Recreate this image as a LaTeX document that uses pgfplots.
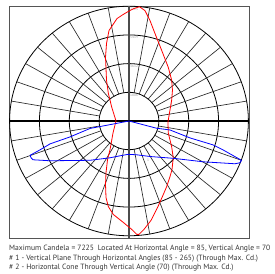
\documentclass[border=0pt]{standalone}
\usepackage{fontspec}
\setmainfont{PT Sans}
\usepackage{pgfplots}
\pgfplotsset{compat=1.18}
\definecolor{boxgray}{HTML}{555555}
\definecolor{txtgray}{HTML}{333333}
\definecolor{lblgray}{HTML}{9A9A9A}
\definecolor{curvered}{HTML}{FF0000}
\definecolor{curveblue}{HTML}{0000FF}
\begin{document}
\begin{tikzpicture}[x=1pt,y=1pt]
\path[use as bounding box] (0,0) rectangle (275,-273);
\begin{axis}[
  at={(9pt,-238pt)}, anchor=south west,
  width=240pt, height=232pt, scale only axis,
  xmin=-7260, xmax=7260, ymin=-7366, ymax=7240,
  ticks=none, clip=false,
  axis line style={boxgray, line width=0.8pt},
]
% rings
\foreach \r in {1806.25,3612.5,5418.75,7225}{
  \edef\tmp{\noexpand\draw[black, line width=0.8pt] (axis cs:0,0) ellipse [x radius=\r, y radius=\r];}\tmp
}
% spokes
\pgfplotsinvokeforeach{10,20,30,40,50,60,70,80,100,110,120,130,140,150,160,170,190,200,210,220,230,240,250,260,280,290,300,310,320,330,340,350}{
  \draw[black!85, line width=0.65pt] (axis cs:{1806.25*cos(#1)},{1806.25*sin(#1)}) -- (axis cs:{7225*cos(#1)},{7225*sin(#1)});
}
% main axes
\draw[black!70, line width=1.1pt] (axis cs:0,-7366) -- (axis cs:0,7240);
\draw[black, line width=1.3pt] (axis cs:-7260,0) -- (axis cs:7260,0);
% ring labels
\node[font=\fontsize{3.6}{4}\selectfont, text=lblgray, anchor=west, inner sep=0pt] at (axis cs:60,1650) {1806};
\node[font=\fontsize{3.6}{4}\selectfont, text=lblgray, anchor=west, inner sep=0pt] at (axis cs:60,3455) {3612};
\node[font=\fontsize{3.6}{4}\selectfont, text=lblgray, anchor=west, inner sep=0pt] at (axis cs:60,5260) {5419};
\node[font=\fontsize{3.6}{4}\selectfont, text=lblgray, anchor=west, inner sep=0pt] at (axis cs:60,7065) {7225};
\node[font=\fontsize{3.6}{4}\selectfont, text=lblgray, inner sep=0pt] at (axis cs:1150,-2450) {1};
\node[font=\fontsize{3.6}{4}\selectfont, text=lblgray, inner sep=0pt] at (axis cs:2550,1070) {2};
% curve 1: vertical plane
\addplot[curvered, line width=0.8pt] coordinates {
(630,7197) (967,6949) (1270,6323) (1572,5509) (1977,4445) (2376,3380)
(2582,2567) (2630,1941) (2582,1315) (2449,501) (2358,-63) (2376,-751)
(2582,-1628) (2678,-2316) (2600,-3067) (2479,-3506) (2279,-4132) (2074,-4632)
(1753,-5384) (1330,-6260) (907,-6823) (605,-7136) (466,-7136) (163,-6823)
(-345,-6385) (-949,-5884) (-1252,-5384) (-1391,-4820) (-1421,-4006) (-1391,-3255)
(-1300,-2441) (-1149,-1815) (-967,-751) (-786,0) (-1046,876) (-1252,1753)
(-1360,2567) (-1421,4006) (-1360,4883) (-1209,5697) (-967,6072) (-726,6448)
(-363,6698) (-60,6886) (242,7055) (630,7197)
};
% curve 2: horizontal cone
\addplot[curveblue, line width=0.8pt] coordinates {
(0,0) (-2358,-470) (-3567,-1002) (-4776,-1440) (-5381,-1815) (-5986,-2160)
(-5925,-2316) (-5804,-2441) (-4776,-2504) (-2358,-2473) (-1149,-2316) (-544,-2191)
(-42,-2097) (466,-2128) (1270,-2235) (2678,-2348) (4474,-2567) (6409,-2692)
(6711,-2629) (6802,-2473) (5683,-1815) (5079,-1502) (3688,-1064) (2479,-563)
(1675,-457) (0,0)
};
\end{axis}
\node[anchor=north west, align=left, inner sep=0pt, text=txtgray,
  font=\fontsize{7.6}{9.2}\selectfont] at (9,-245.2) {%
Maximum Candela = 7225\ \ Located At Horizontal Angle = 85, Vertical Angle = 70\\
\# 1 - Vertical Plane Through Horizontal Angles (85 - 265) (Through Max. Cd.)\\
\# 2 - Horizontal Cone Through Vertical Angle (70) (Through Max. Cd.)};
\end{tikzpicture}
\end{document}
